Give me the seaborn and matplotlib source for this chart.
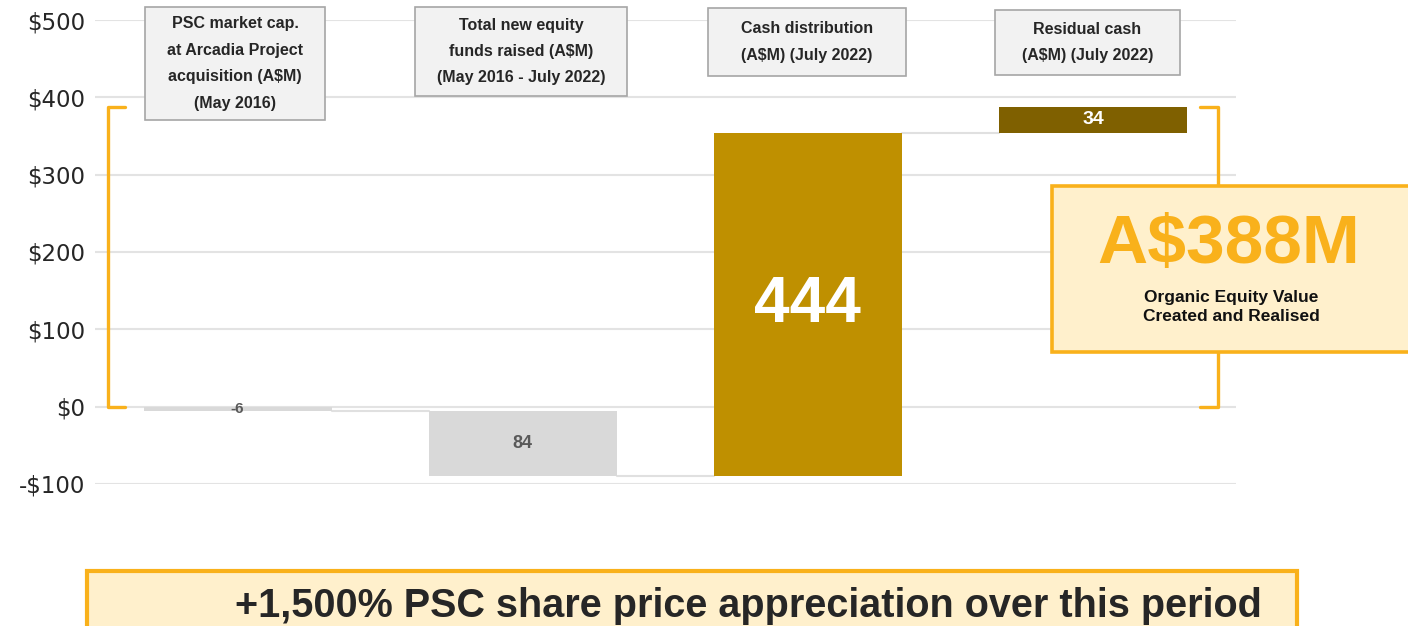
import numpy as np
import pandas as pd
import matplotlib
matplotlib.use('Agg')
import matplotlib.pyplot as plt
import seaborn as sns
from matplotlib.patches import Rectangle

# Data
categories = ['PSC market cap.\nat Arcadia Project\nacquisition (A$M)\n(May 2016)',
              'Total new equity\nfunds raised (A$M)\n(May 2016 - July 2022)',
              'Cash distribution\n(A$M) (July 2022)',
              'Residual cash\n(A$M) (July 2022)']
changes = [-6, -84, 444, 34]
bar_labels = ['-6', '84', '444', '34']
bar_colors = ['#d9d9d9', '#d9d9d9', '#bf9000', '#7f6000']
label_colors = ['#595959', '#595959', 'white', 'white']
label_sizes = [11, 13, 46, 14]
y_ticks = [-100, 0, 100, 200, 300, 400, 500]
y_ticklabels = ['-$100', '$0', '$100', '$200', '$300', '$400', '$500']
total_value = 388

ORANGE = '#f9b11b'
CREAM = '#fff0cc'

sns.set_theme(style='white')
plt.rcParams['font.family'] = ['Liberation Sans', 'DejaVu Sans']

bottoms = np.concatenate([[0], np.cumsum(changes)[:-1]])
tops = bottoms + np.array(changes)
df = pd.DataFrame({'cat': categories, 'change': changes, 'bottom': bottoms})

fig = plt.figure(figsize=(14.08, 6.26), dpi=100)
ax = fig.add_axes([0.0675, 0.227, 0.81, 0.741])

sns.barplot(data=df, x='cat', y='change', bottom=df['bottom'].values, color='#d9d9d9',
            width=0.66, saturation=1, errorbar=None, ax=ax, zorder=3)
for patch, c in zip(ax.patches, bar_colors):
    patch.set_facecolor(c)
    patch.set_edgecolor('none')

# connectors between bars
half = 0.33
for i in range(len(changes) - 1):
    ax.plot([i + half, i + 1 - half], [tops[i], tops[i]], color='#e0e0e0', lw=1.5, zorder=2)

# bar labels
for i, (lab, col, fs) in enumerate(zip(bar_labels, label_colors, label_sizes)):
    ym = (bottoms[i] + tops[i]) / 2
    ax.text(i, ym, lab, ha='center', va='center', color=col, fontsize=fs,
            fontweight='bold', zorder=5)

ax.set_xlim(-0.5, 3.5)
ax.set_ylim(-100, 500)
ax.set_yticks(y_ticks)
ax.set_yticklabels(y_ticklabels, fontsize=16.5, color='#262626', family=['DejaVu Sans'])
ax.set_xticks([])
ax.set_xlabel('')
ax.set_ylabel('')
ax.tick_params(axis='y', length=0, pad=7)
ax.yaxis.grid(True, color='#e3e3e3', lw=1.5)
ax.set_axisbelow(True)
for s in ax.spines.values():
    s.set_visible(False)

# header boxes (figure pixel coords)
W, H = 1408, 626
boxes = [(145, 7, 325, 120), (415, 7, 627, 96), (708, 8, 906, 76), (995, 10, 1180, 75)]
for (x0, y0, x1, y1), txt in zip(boxes, categories):
    fig.patches.append(Rectangle((x0 / W, 1 - y1 / H), (x1 - x0) / W, (y1 - y0) / H,
                                 transform=fig.transFigure, facecolor='#f2f2f2',
                                 edgecolor='#a6a6a6', lw=1.2, zorder=4))
    fig.text((x0 + x1) / 2 / W, 1 - (y0 + y1) / 2 / H, txt, ha='center', va='center',
             fontsize=11.5, fontweight='bold', color='#262626', linespacing=1.95, zorder=5)

# orange brackets
for xv, xt in [(-0.455, -0.395), (3.44, 3.377)]:
    ax.plot([xt, xv, xv, xt], [total_value, total_value, 0, 0], color=ORANGE, lw=2.4,
            clip_on=False, zorder=1, solid_joinstyle='round')

# A$388M box
fig.patches.append(Rectangle((1052 / W, 1 - 352 / H), 370 / W, 166 / H, transform=fig.transFigure,
                             facecolor=CREAM, edgecolor=ORANGE, lw=2.6, zorder=6))
fig.text(1229 / W, 1 - 245 / H, 'A$388M', ha='center', va='center', fontsize=50,
         fontweight='bold', color=ORANGE, zorder=7)
fig.text(1231 / W, 1 - 307 / H, 'Organic Equity Value\nCreated and Realised', ha='center',
         va='center', fontsize=12.5, fontweight='bold', color='#111111', linespacing=1.4, zorder=7)

# bottom banner
fig.patches.append(Rectangle((87 / W, 1 - 660 / H), 1210 / W, 89 / H, transform=fig.transFigure,
                             facecolor=CREAM, edgecolor=ORANGE, lw=3, zorder=6))
fig.text(748 / W, 1 - 606 / H, '+1,500% PSC share price appreciation over this period',
         ha='center', va='center', fontsize=28.5, fontweight='bold', color='#262626', zorder=7)

fig.savefig('out.png', dpi=100)
